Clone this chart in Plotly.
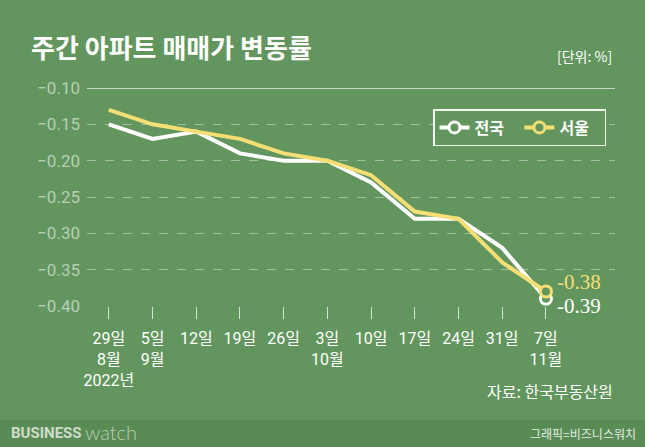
import plotly.graph_objects as go

# ---- data ----
week_labels = ["29일<br>8월<br>2022년", "5일<br>9월", "12일", "19일", "26일", "3일<br>10월",
               "10일", "17일", "24일", "31일", "7일<br>11월"]
nationwide = [-0.15, -0.17, -0.16, -0.19, -0.20, -0.20, -0.23, -0.28, -0.28, -0.32, -0.39]
seoul = [-0.13, -0.15, -0.16, -0.17, -0.19, -0.20, -0.22, -0.27, -0.28, -0.34, -0.38]
series_names = ["전국", "서울"]
y_ticks = [-0.40, -0.35, -0.30, -0.25, -0.20, -0.15, -0.10]

# ---- style ----
BG = "#62965e"
BAR = "#598b55"
WHITE = "#ffffff"
YELLOW = "#f5df74"
W, H = 645, 447
L, R, T, B = 87, 30, 88, 141
PW, PH = W - L - R, H - T - B


def xp(px):
    return (px - L) / PW


def yp(py):
    return (H - B - py) / PH


KR = "Noto Sans CJK KR"
NUM = "Roboto, Noto Sans CJK KR"

fig = go.Figure()

for vals, col, name in [(nationwide, WHITE, series_names[0]), (seoul, YELLOW, series_names[1])]:
    fig.add_trace(go.Scatter(x=week_labels, y=vals, mode="lines",
                             line=dict(color=col, width=4), showlegend=False,
                             cliponaxis=False, hoverinfo="skip"))

for vals, col in [(nationwide, WHITE), (seoul, YELLOW)]:
    fig.add_trace(go.Scatter(x=week_labels[-1:], y=vals[-1:], mode="markers",
                             marker=dict(symbol="circle", size=11, color=BG,
                                         line=dict(color=col, width=3)),
                             showlegend=False, cliponaxis=False, hoverinfo="skip"))

for col, name in [(WHITE, series_names[0]), (YELLOW, series_names[1])]:
    fig.add_trace(go.Scatter(x=[None], y=[None], mode="lines+markers",
                             name=name + "\u00a0\u00a0\u2009",
                             line=dict(color=col, width=4),
                             marker=dict(symbol="circle", size=11, color=BG,
                                         line=dict(color=col, width=3))))

# end-value annotations
fig.add_annotation(x=week_labels[-1], y=seoul[-1], xref="x", yref="y",
                   text=f"{seoul[-1]:.2f}", showarrow=False,
                   xanchor="left", yanchor="middle", xshift=9, yshift=9,
                   font=dict(family="Liberation Serif", size=21, color=YELLOW))
fig.add_annotation(x=week_labels[-1], y=nationwide[-1], xref="x", yref="y",
                   text=f"{nationwide[-1]:.2f}", showarrow=False,
                   xanchor="left", yanchor="middle", xshift=9, yshift=-7,
                   font=dict(family="Liberation Serif", size=21, color=WHITE))

# title and notes
fig.add_annotation(x=xp(29), y=yp(46), xref="paper", yref="paper",
                   text="<b>주간 아파트 매매가 변동률</b>", showarrow=False,
                   xanchor="left", yanchor="middle",
                   font=dict(family=KR, size=26, color=WHITE))
fig.add_annotation(x=xp(614), y=yp(56), xref="paper", yref="paper",
                   text="[단위: %]", showarrow=False, xanchor="right", yanchor="middle",
                   font=dict(family=KR, size=14, color=WHITE))
fig.add_annotation(x=xp(615), y=yp(391), xref="paper", yref="paper",
                   text="자료: 한국부동산원", showarrow=False, xanchor="right", yanchor="middle",
                   font=dict(family=KR, size=16, color=WHITE))
fig.add_annotation(x=xp(9), y=yp(433), xref="paper", yref="paper",
                   text="<b>BUSINESS</b>", showarrow=False, xanchor="left", yanchor="middle",
                   font=dict(family="Roboto", size=15, color="#cfdccb"))
fig.add_annotation(x=xp(83), y=yp(432), xref="paper", yref="paper",
                   text="watch", showarrow=False, xanchor="left", yanchor="middle",
                   font=dict(family="Lato", size=20, color="#b9ceb5", weight=300))
fig.add_annotation(x=xp(638), y=yp(433), xref="paper", yref="paper",
                   text="그래픽=비즈니스워치", showarrow=False, xanchor="right", yanchor="middle",
                   font=dict(family=KR, size=12, color="#e3ece1"))

# bottom bar and solid top line
fig.add_shape(type="rect", xref="paper", yref="paper", x0=xp(0), x1=xp(W),
              y0=yp(H), y1=yp(419.5), fillcolor=BAR, line=dict(width=0), layer="below")
fig.add_shape(type="line", xref="paper", yref="y", x0=0, x1=1, y0=y_ticks[-1], y1=y_ticks[-1],
              line=dict(color="rgba(255,255,255,0.85)", width=1.5), layer="below")

fig.update_layout(
    width=W, height=H,
    margin=dict(l=L, r=R, t=T, b=B),
    paper_bgcolor=BG, plot_bgcolor=BG,
    showlegend=True,
    legend=dict(x=xp(433), y=yp(109), xanchor="left", yanchor="top",
                orientation="h", bgcolor=BG, bordercolor="rgba(255,255,255,0.9)",
                borderwidth=1.5, font=dict(family=KR, size=16, color=WHITE, weight="bold"),
                itemwidth=30, tracegroupgap=0),
    xaxis=dict(type="category", range=[-0.5, 11.58], showgrid=False, zeroline=False,
               showline=False, ticks="outside", ticklen=12, tickwidth=1,
               tickcolor="rgba(255,255,255,0.75)", ticklabelstandoff=6,
               tickfont=dict(family=NUM, size=16, color=WHITE)),
    yaxis=dict(range=[-0.40, -0.10], tickvals=y_ticks, tickformat=".2f",
               showgrid=True, gridcolor="rgba(255,255,255,0.4)", griddash="dash",
               gridwidth=1, zeroline=False, showline=False, ticks="",
               ticklabelstandoff=6,
               tickfont=dict(family=NUM, size=17, color="rgba(255,255,255,0.55)")),
)

fig.write_html("out.html", config={"displayModeBar": False},
               post_script="document.body.style.margin='0px';document.body.style.padding='0px';")
